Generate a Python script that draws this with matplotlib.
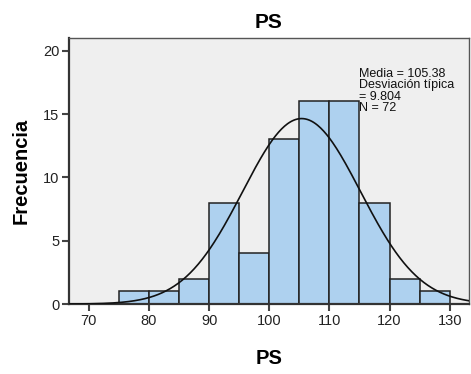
import numpy as np
import matplotlib
matplotlib.use("Agg")
import matplotlib.pyplot as plt

# Histogram of PS scores (bin width 5)
bin_edges = [75, 80, 85, 90, 95, 100, 105, 110, 115, 120, 125, 130]
counts = [1, 1, 2, 8, 4, 13, 16, 16, 8, 2, 1]
mean = 105.38
std = 9.804
n = 72
x_ticks = [70, 80, 90, 100, 110, 120, 130]
y_ticks = [0, 5, 10, 15, 20]

plt.rcParams['font.family'] = ['Liberation Sans', 'DejaVu Sans']

fig = plt.figure(figsize=(4.71, 3.74), dpi=100)
fig.patch.set_facecolor('white')
ax = fig.add_axes([0.1465, 0.187, 0.849, 0.711])
ax.set_facecolor('#efefef')

widths = np.diff(bin_edges)
ax.bar(bin_edges[:-1], counts, width=widths, align='edge',
       color='#aed1ef', edgecolor='#222222', linewidth=1.1, zorder=2)

xmin, xmax = 66.7, 133.2
xs = np.linspace(xmin, xmax, 400)
bw = widths[0]
ys = n * bw / (std * np.sqrt(2 * np.pi)) * np.exp(-0.5 * ((xs - mean) / std) ** 2)
ax.plot(xs, ys, color='#111111', linewidth=1.2, zorder=3)

ax.set_xlim(xmin, xmax)
ax.set_ylim(0, 21.0)
ax.set_xticks(x_ticks)
ax.set_yticks(y_ticks)
ax.tick_params(direction='out', length=5, width=1.5, color='#444444',
               labelsize=10.5, labelcolor='#222222', pad=2)
for s in ax.spines.values():
    s.set_color('#555555')
    s.set_linewidth(1.0)
ax.spines['left'].set_linewidth(1.6)
ax.spines['bottom'].set_linewidth(1.6)
ax.spines['left'].set_color('#333333')
ax.spines['bottom'].set_color('#333333')

ax.set_title('PS', fontsize=15, fontweight='bold', pad=7)
ax.set_xlabel('PS', fontsize=14.5, fontweight='bold', labelpad=15)
ax.set_ylabel('Frecuencia', fontsize=14.5, fontweight='bold', labelpad=9)

stats = f"Media = {mean:.2f}\nDesviación típica\n= {std:.3f}\nN = {n}"
ax.text(0.726, 0.887, stats, transform=ax.transAxes, fontsize=9,
        va='top', ha='left', linespacing=0.92, color='#111111')

fig.savefig('out.png', dpi=100, facecolor='white')
